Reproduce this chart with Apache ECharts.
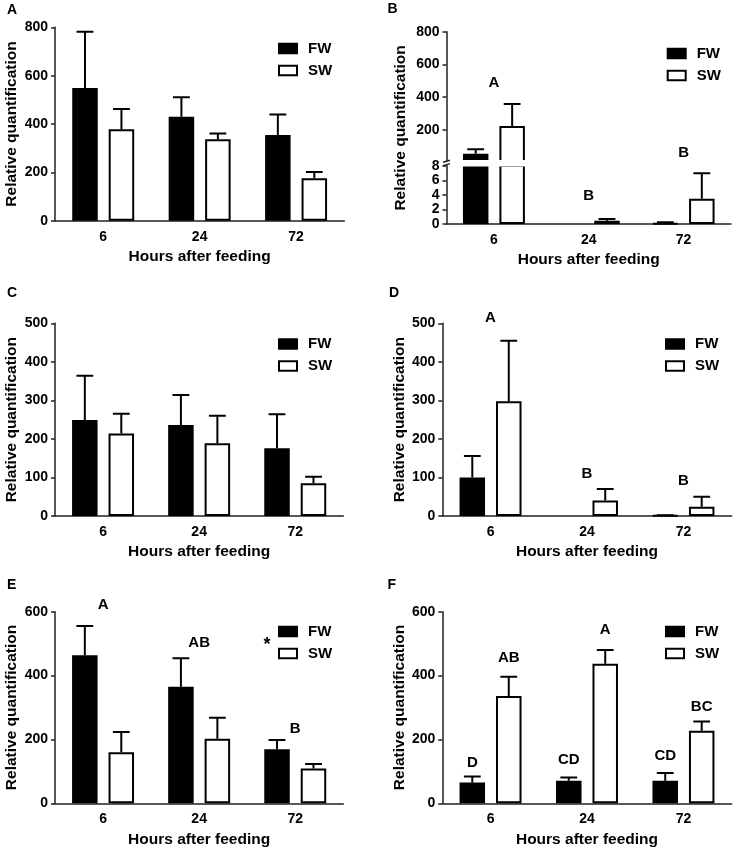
<!DOCTYPE html>
<html>
<head>
<meta charset="utf-8">
<script src="https://cdn.jsdelivr.net/npm/echarts@6/dist/echarts.min.js"></script>
<style>
  html, body { margin: 0; padding: 0; background: #fff; }
  #main { width: 738px; height: 854px; }
</style>
</head>
<body>
<div id="main"></div>
<script>
// categories
var hours = ['6', '24', '72'];

// panel A
var aFW = [549, 430, 354], aFWErr = [233, 81, 85];
var aSW = [378, 337, 176], aSWErr = [84, 24, 25];
// panel B (broken axis)
var bFW = [54, 0, 0.1], bFWErr = [28, 0, 0.13];
var bSW = [224, 0.45, 3.47], bSWErr = [135, 0.24, 3.48];
var bLetters = ['A', 'B', 'B'], bLetterY = [490, 3.8, 58];
// panel C
var cFW = [249, 236, 176], cFWErr = [115, 78, 88];
var cSW = [214, 189, 85], cSWErr = [51, 71, 17];
// panel D
var dFW = [100, 0, 1.5], dFWErr = [56, 0, 0.5];
var dSW = [298, 40, 24], dSWErr = [157, 30, 26];
var dLetters = ['A', 'B', 'B'], dLetterY = [513, 109, 92];
// panel E
var eFW = [464, 365, 169], eFWErr = [91, 89, 29];
var eSW = [160, 202, 109], eSWErr = [63, 66, 14];
var eLetters = ['A', 'AB', 'B'], eLetterY = [621, 501, 232];
// panel F
var fFW = [65, 71, 71], fFWErr = [19, 10, 24];
var fSW = [336, 437, 227], fSWErr = [60, 43, 29];
var fFWLetters = ['D', 'CD', 'CD'], fFWLetterY = [127, 136, 148];
var fSWLetters = ['AB', 'A', 'BC'], fSWLetterY = [454, 543, 303];

var FONT = '"Liberation Sans", Arial, sans-serif';
var BAR_W = 25.5, GAP = 0.43;

var grids = [], xAxes = [], yAxes = [], series = [], legends = [];

function txt(size) {
    return { color: '#000', fontWeight: 'bold', fontSize: size, fontFamily: FONT };
}
var lineSt = { color: '#222', width: 1.5 };

// x offset of FW (-1) / SW (+1) bar centre from the category centre
function sideOffset(side) {
    return side * (BAR_W + BAR_W * GAP) / 2;
}

function errSeries(i, mean, err, side, yMin, yMax) {
    return {
        type: 'custom', xAxisIndex: i, yAxisIndex: i, clip: true, silent: true, z: 3,
        data: mean.map(function (m, k) { return [k, m, m + err[k]]; }),
        renderItem: function (params, api) {
            var m = api.value(1), t = api.value(2);
            // nothing to draw, or the bar end lies in the other axis segment
            if (t <= m || m >= yMax || t <= yMin) return null;
            var base = api.coord([api.value(0), m]);
            var top = api.coord([api.value(0), t]);
            var x = base[0] + sideOffset(side);
            var half = BAR_W * 0.33;
            return {
                type: 'group', children: [
                    { type: 'line', shape: { x1: x, y1: base[1], x2: x, y2: top[1] }, style: { stroke: '#000', lineWidth: 2 } },
                    { type: 'line', shape: { x1: x - half, y1: top[1], x2: x + half, y2: top[1] }, style: { stroke: '#000', lineWidth: 2 } }
                ]
            };
        }
    };
}

function letterSeries(i, labels, ys, side) {
    return {
        type: 'custom', xAxisIndex: i, yAxisIndex: i, clip: false, silent: true, z: 4,
        data: ys.map(function (y, k) { return [k, y]; }),
        renderItem: function (params, api) {
            var lab = labels[params.dataIndex];
            if (!lab) return null;
            var p = api.coord([api.value(0), api.value(1)]);
            return {
                type: 'text', x: p[0] + sideOffset(side), y: p[1],
                style: { text: lab, fill: '#000', font: 'bold 15px ' + FONT, align: 'center', verticalAlign: 'middle' }
            };
        }
    };
}

function addGrid(p) {
    var i = grids.length;
    grids.push(p.rect);
    xAxes.push({
        type: 'category', gridIndex: i, data: hours, show: p.showX !== false,
        axisLine: { lineStyle: lineSt },
        axisTick: { alignWithLabel: true, length: 4, lineStyle: lineSt },
        axisLabel: Object.assign({ margin: 9 }, txt(14)),
        name: 'Hours after feeding', nameLocation: 'middle', nameGap: 28,
        nameTextStyle: txt(15.5)
    });
    var ya = {
        type: 'value', gridIndex: i, min: p.min, max: p.max,
        splitLine: { show: false },
        axisLine: { show: true, lineStyle: lineSt },
        axisTick: { show: true, length: 4, lineStyle: lineSt },
        axisLabel: Object.assign({ margin: 7 }, txt(14))
    };
    if (p.interval) ya.interval = p.interval;
    if (p.ticks) {
        ya.axisLabel.customValues = p.ticks;
        ya.axisTick.customValues = p.ticks;
    }
    if (p.nameGap) {
        ya.name = 'Relative quantification';
        ya.nameLocation = 'middle';
        ya.nameGap = p.nameGap;
        ya.nameTextStyle = txt(15.5);
    }
    yAxes.push(ya);
    var noZero = function (v) { return v === 0 ? '-' : v; };
    series.push({
        type: 'bar', name: 'FW', xAxisIndex: i, yAxisIndex: i, data: p.fw.map(noZero),
        barWidth: BAR_W, barGap: (GAP * 100) + '%', clip: true, z: 2,
        itemStyle: { color: '#000', borderColor: '#000', borderWidth: 2 }
    });
    series.push({
        type: 'bar', name: 'SW', xAxisIndex: i, yAxisIndex: i, data: p.sw.map(noZero),
        barWidth: BAR_W, barGap: (GAP * 100) + '%', clip: true, z: 2,
        itemStyle: { color: '#fff', borderColor: '#000', borderWidth: 2 }
    });
    series.push(errSeries(i, p.fw, p.fwErr, -1, p.min, p.max));
    series.push(errSeries(i, p.sw, p.swErr, 1, p.min, p.max));
    return i;
}

function addLegend(left, top) {
    legends.push({
        data: [{ name: 'FW', icon: 'rect' }, { name: 'SW', icon: 'rect' }],
        orient: 'vertical', left: left, top: top, padding: 0,
        itemWidth: 18, itemHeight: 9.5, itemGap: 7, selectedMode: false,
        textStyle: Object.assign({ lineHeight: 15, padding: [0, 0, 0, 6] }, txt(15))
    });
}

// A
addGrid({ rect: { left: 55, top: 27.3, width: 289.3, height: 193.4 }, min: 0, max: 800, interval: 200,
    fw: aFW, fwErr: aFWErr, sw: aSW, swErr: aSWErr, nameGap: 35 });
addLegend(278, 41);

// B upper + lower
var bUp = addGrid({ rect: { left: 446.5, top: 31.7, width: 284.5, height: 129.3 }, min: 10, max: 800,
    ticks: [200, 400, 600, 800], showX: false,
    fw: bFW, fwErr: bFWErr, sw: bSW, swErr: bSWErr });
var bLow = addGrid({ rect: { left: 446.5, top: 165.7, width: 284.5, height: 58.3 }, min: 0, max: 8, interval: 2,
    fw: bFW, fwErr: bFWErr, sw: bSW, swErr: bSWErr });
series.push(letterSeries(bUp, [bLetters[0], null, bLetters[2]], bLetterY, 0));
series.push(letterSeries(bLow, [null, bLetters[1], null], bLetterY, 0));
addLegend(666.7, 46);

// C
addGrid({ rect: { left: 55, top: 323.3, width: 288.3, height: 192.7 }, min: 0, max: 500, interval: 100,
    fw: cFW, fwErr: cFWErr, sw: cSW, swErr: cSWErr, nameGap: 35 });
addLegend(278, 336.5);

// D
var dIdx = addGrid({ rect: { left: 442.3, top: 323.3, width: 289.4, height: 192.7 }, min: 0, max: 500, interval: 100,
    fw: dFW, fwErr: dFWErr, sw: dSW, swErr: dSWErr, nameGap: 33 });
series.push(letterSeries(dIdx, dLetters, dLetterY, 0));
addLegend(665, 336.5);

// E
var eIdx = addGrid({ rect: { left: 55, top: 611.7, width: 288.3, height: 191.6 }, min: 0, max: 600, interval: 200,
    fw: eFW, fwErr: eFWErr, sw: eSW, swErr: eSWErr, nameGap: 35 });
series.push(letterSeries(eIdx, eLetters, eLetterY, 0));
addLegend(278, 624);

// F
var fIdx = addGrid({ rect: { left: 442.3, top: 611.7, width: 289.4, height: 191.6 }, min: 0, max: 600, interval: 200,
    fw: fFW, fwErr: fFWErr, sw: fSW, swErr: fSWErr, nameGap: 33 });
series.push(letterSeries(fIdx, fFWLetters, fFWLetterY, -1));
series.push(letterSeries(fIdx, fSWLetters, fSWLetterY, 1));
addLegend(665, 624);

function panelTitle(t, left, top) {
    return { text: t, left: left, top: top, padding: 0, textStyle: txt(14) };
}

var chart = echarts.init(document.getElementById('main'));
chart.setOption({
    animation: false,
    backgroundColor: '#fff',
    title: [
        panelTitle('A', 7, 3), panelTitle('B', 387.5, 2.5),
        panelTitle('C', 7, 286.5), panelTitle('D', 389, 286.5),
        panelTitle('E', 7, 578), panelTitle('F', 387.5, 578)
    ],
    legend: legends,
    grid: grids,
    xAxis: xAxes,
    yAxis: yAxes,
    series: series,
    graphic: [
        // y title of the broken-axis panel B spans both segments
        { type: 'text', x: 400.7, y: 127.9, rotation: Math.PI / 2,
          style: { text: 'Relative quantification', fill: '#000', font: 'bold 15.5px ' + FONT, align: 'center', verticalAlign: 'middle' } },
        // white gap where the bars cross the axis break
        { type: 'rect', z: 100, shape: { x: 448.5, y: 160, width: 283, height: 6.4 }, style: { fill: '#fff' } },
        // axis break marks
        { type: 'line', z: 101, shape: { x1: 443, y1: 162.2, x2: 450, y2: 160.2 }, style: { stroke: '#222', lineWidth: 1.5 } },
        { type: 'line', z: 101, shape: { x1: 443, y1: 165.6, x2: 450, y2: 163.6 }, style: { stroke: '#222', lineWidth: 1.5 } },
        // significance mark in E
        { type: 'text', x: 267, y: 645,
          style: { text: '*', fill: '#000', font: 'bold 18px ' + FONT, align: 'center', verticalAlign: 'middle' } }
    ]
});
</script>
</body>
</html>
